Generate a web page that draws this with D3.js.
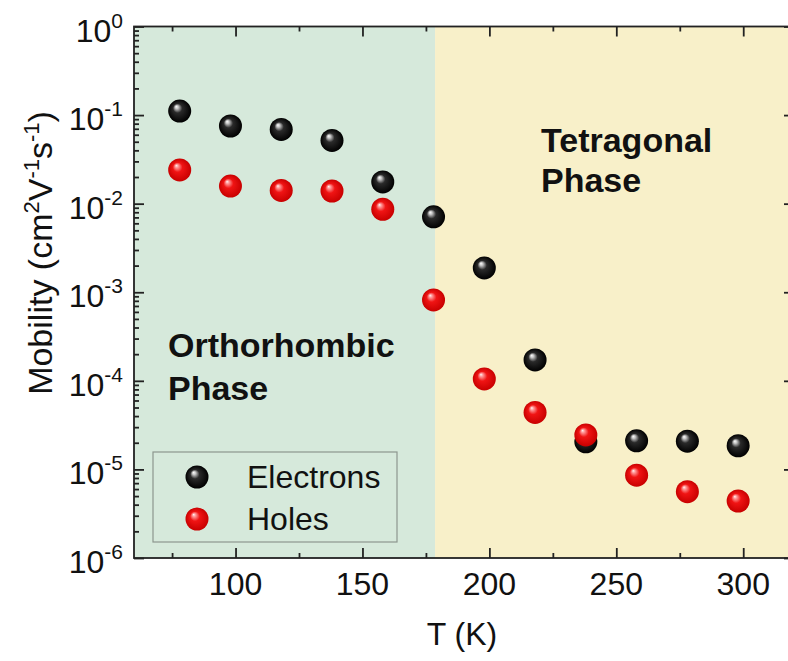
<!DOCTYPE html>
<html lang="en">
  <head>
    <meta charset="UTF-8" />
    <title>Mobility vs T</title>
    <script src="https://d3js.org/d3.v7.min.js"></script>
    <style>
      body { margin: 0; background: #fff; }
      text { font-family: "Liberation Sans", Arial, sans-serif; fill: #111; }
    </style>
  </head>
  <body>
    <svg width="788" height="661"></svg>
    <script>
      // data
      const temps = [78, 98, 118, 138, 158, 178, 198, 218, 238, 258, 278, 298];
      const electrons = [0.111, 0.0753, 0.0688, 0.0517, 0.0176, 0.0071, 0.00188, 1.72e-4, 2.05e-5, 2.1e-5, 2.08e-5, 1.85e-5];
      const holes = [0.024, 0.0158, 0.0141, 0.0139, 0.00865, 8.2e-4, 1.05e-4, 4.4e-5, 2.45e-5, 8.6e-6, 5.6e-6, 4.4e-6];
      const phaseT = 178.6; // orthorhombic -> tetragonal
      const xMajor = [100, 150, 200, 250, 300];
      const xMinor = [75, 125, 175, 225, 275];
      const yExps = [0, -1, -2, -3, -4, -5, -6];

      const svg = d3.select("svg");
      const pL = 134, pR = 794, pT = 26.5, pB = 558;

      const x = d3.scaleLinear().domain([60, 320]).range([pL, pR]);
      const y = d3.scaleLog().domain([1e-6, 1]).range([pB, pT]);

      const yMajor = yExps.map((e) => Math.pow(10, e));
      const yMinor = [];
      yExps.slice(1).forEach((e) => {
        for (let k = 2; k <= 9; k++) yMinor.push(k * Math.pow(10, e));
      });

      // gradients for the shiny balls
      const defs = svg.append("defs");
      function ball(id, stops) {
        const gr = defs.append("radialGradient").attr("id", id)
          .attr("cx", "50%").attr("cy", "50%").attr("r", "50%")
          .attr("fx", "35%").attr("fy", "30%");
        stops.forEach((s) => gr.append("stop").attr("offset", s[0]).attr("stop-color", s[1]));
      }
      ball("gBlack", [["0%", "#ffffff"], ["14%", "#c8c8c8"], ["40%", "#2a2a2a"], ["100%", "#000000"]]);
      ball("gRed", [["0%", "#fff4f4"], ["14%", "#ff9a9a"], ["42%", "#f01414"], ["100%", "#c80000"]]);

      // phase backgrounds
      svg.append("rect")
        .attr("x", pL).attr("y", pT)
        .attr("width", x(phaseT) - pL).attr("height", pB - pT)
        .attr("fill", "#d6e9db");
      svg.append("rect")
        .attr("x", x(phaseT)).attr("y", pT)
        .attr("width", pR - x(phaseT)).attr("height", pB - pT)
        .attr("fill", "#f8f0c9");

      // ticks (all pointing inward)
      function ticks(axis, vals, len, tx, ty) {
        const g = svg.append("g")
          .attr("transform", `translate(${tx},${ty})`)
          .attr("color", "#222")
          .call(axis.tickValues(vals).tickSize(-len).tickSizeOuter(0).tickFormat(""));
        g.select(".domain").remove();
        g.selectAll("line").attr("stroke-width", 1.8);
        return g;
      }
      ticks(d3.axisBottom(x), xMajor, 10, 0, pB);
      ticks(d3.axisBottom(x), xMinor, 5, 0, pB);
      ticks(d3.axisTop(x), xMajor, 10, 0, pT);
      ticks(d3.axisTop(x), xMinor, 5, 0, pT);
      ticks(d3.axisLeft(y), yMajor, 10, pL, 0);
      ticks(d3.axisLeft(y), yMinor, 5, pL, 0);
      ticks(d3.axisRight(y), yMajor, 10, pR, 0);
      ticks(d3.axisRight(y), yMinor, 5, pR, 0);

      // frame
      svg.append("rect")
        .attr("x", pL).attr("y", pT)
        .attr("width", pR - pL).attr("height", pB - pT)
        .attr("fill", "none").attr("stroke", "#222").attr("stroke-width", 1.8);

      // x tick labels
      svg.append("g").selectAll("text").data(xMajor).join("text")
        .attr("x", (d) => x(d)).attr("y", 595)
        .attr("text-anchor", "middle").attr("font-size", 32)
        .text((d) => d);

      // y tick labels 10^n
      const yl = svg.append("g").selectAll("text").data(yExps).join("text")
        .attr("x", 123).attr("y", (d) => y(Math.pow(10, d)) + 15)
        .attr("text-anchor", "end").attr("font-size", 32);
      yl.append("tspan").text("10");
      yl.append("tspan").attr("dy", -14).attr("font-size", 21)
        .text((d) => (d < 0 ? "-" + -d : d));

      // axis titles
      svg.append("text")
        .attr("x", (pL + pR) / 2 - 2).attr("y", 645)
        .attr("text-anchor", "middle").attr("font-size", 32)
        .text("T (K)");

      const yt = svg.append("text")
        .attr("transform", "translate(52,253) rotate(-90)")
        .attr("text-anchor", "middle").attr("font-size", 34);
      [["Mobility (cm", 0, 34], ["2", -13, 22], ["V", 13, 34], ["-1", -13, 22],
       ["s", 13, 34], ["-1", -13, 22], [")", 13, 34]].forEach((p) => {
        yt.append("tspan").attr("dy", p[1]).attr("font-size", p[2]).text(p[0]);
      });

      // phase labels
      function label(lines, x0, ys) {
        lines.forEach((t, i) => {
          svg.append("text").attr("x", x0).attr("y", ys[i])
            .attr("font-size", 34).attr("font-weight", "bold").text(t);
        });
      }
      label(["Tetragonal", "Phase"], 541, [152, 192]);
      label(["Orthorhombic", "Phase"], 168, [357, 400]);

      // data points
      const r = 11.5;
      svg.append("g").selectAll("circle").data(temps).join("circle")
        .attr("cx", (d) => x(d)).attr("cy", (d, i) => y(electrons[i]))
        .attr("r", r).attr("fill", "url(#gBlack)");
      svg.append("g").selectAll("circle").data(temps).join("circle")
        .attr("cx", (d) => x(d)).attr("cy", (d, i) => y(holes[i]))
        .attr("r", r).attr("fill", "url(#gRed)");

      // legend
      const lg = svg.append("g");
      lg.append("rect")
        .attr("x", 153).attr("y", 452).attr("width", 244).attr("height", 90)
        .attr("fill", "none").attr("stroke", "#8c978e").attr("stroke-width", 1.2);
      [["Electrons", "url(#gBlack)", 477], ["Holes", "url(#gRed)", 519]].forEach((e) => {
        lg.append("circle").attr("cx", 197).attr("cy", e[2]).attr("r", r).attr("fill", e[1]);
        lg.append("text").attr("x", 247).attr("y", e[2] + 11)
          .attr("font-size", 32).text(e[0]);
      });
    </script>
  </body>
</html>
